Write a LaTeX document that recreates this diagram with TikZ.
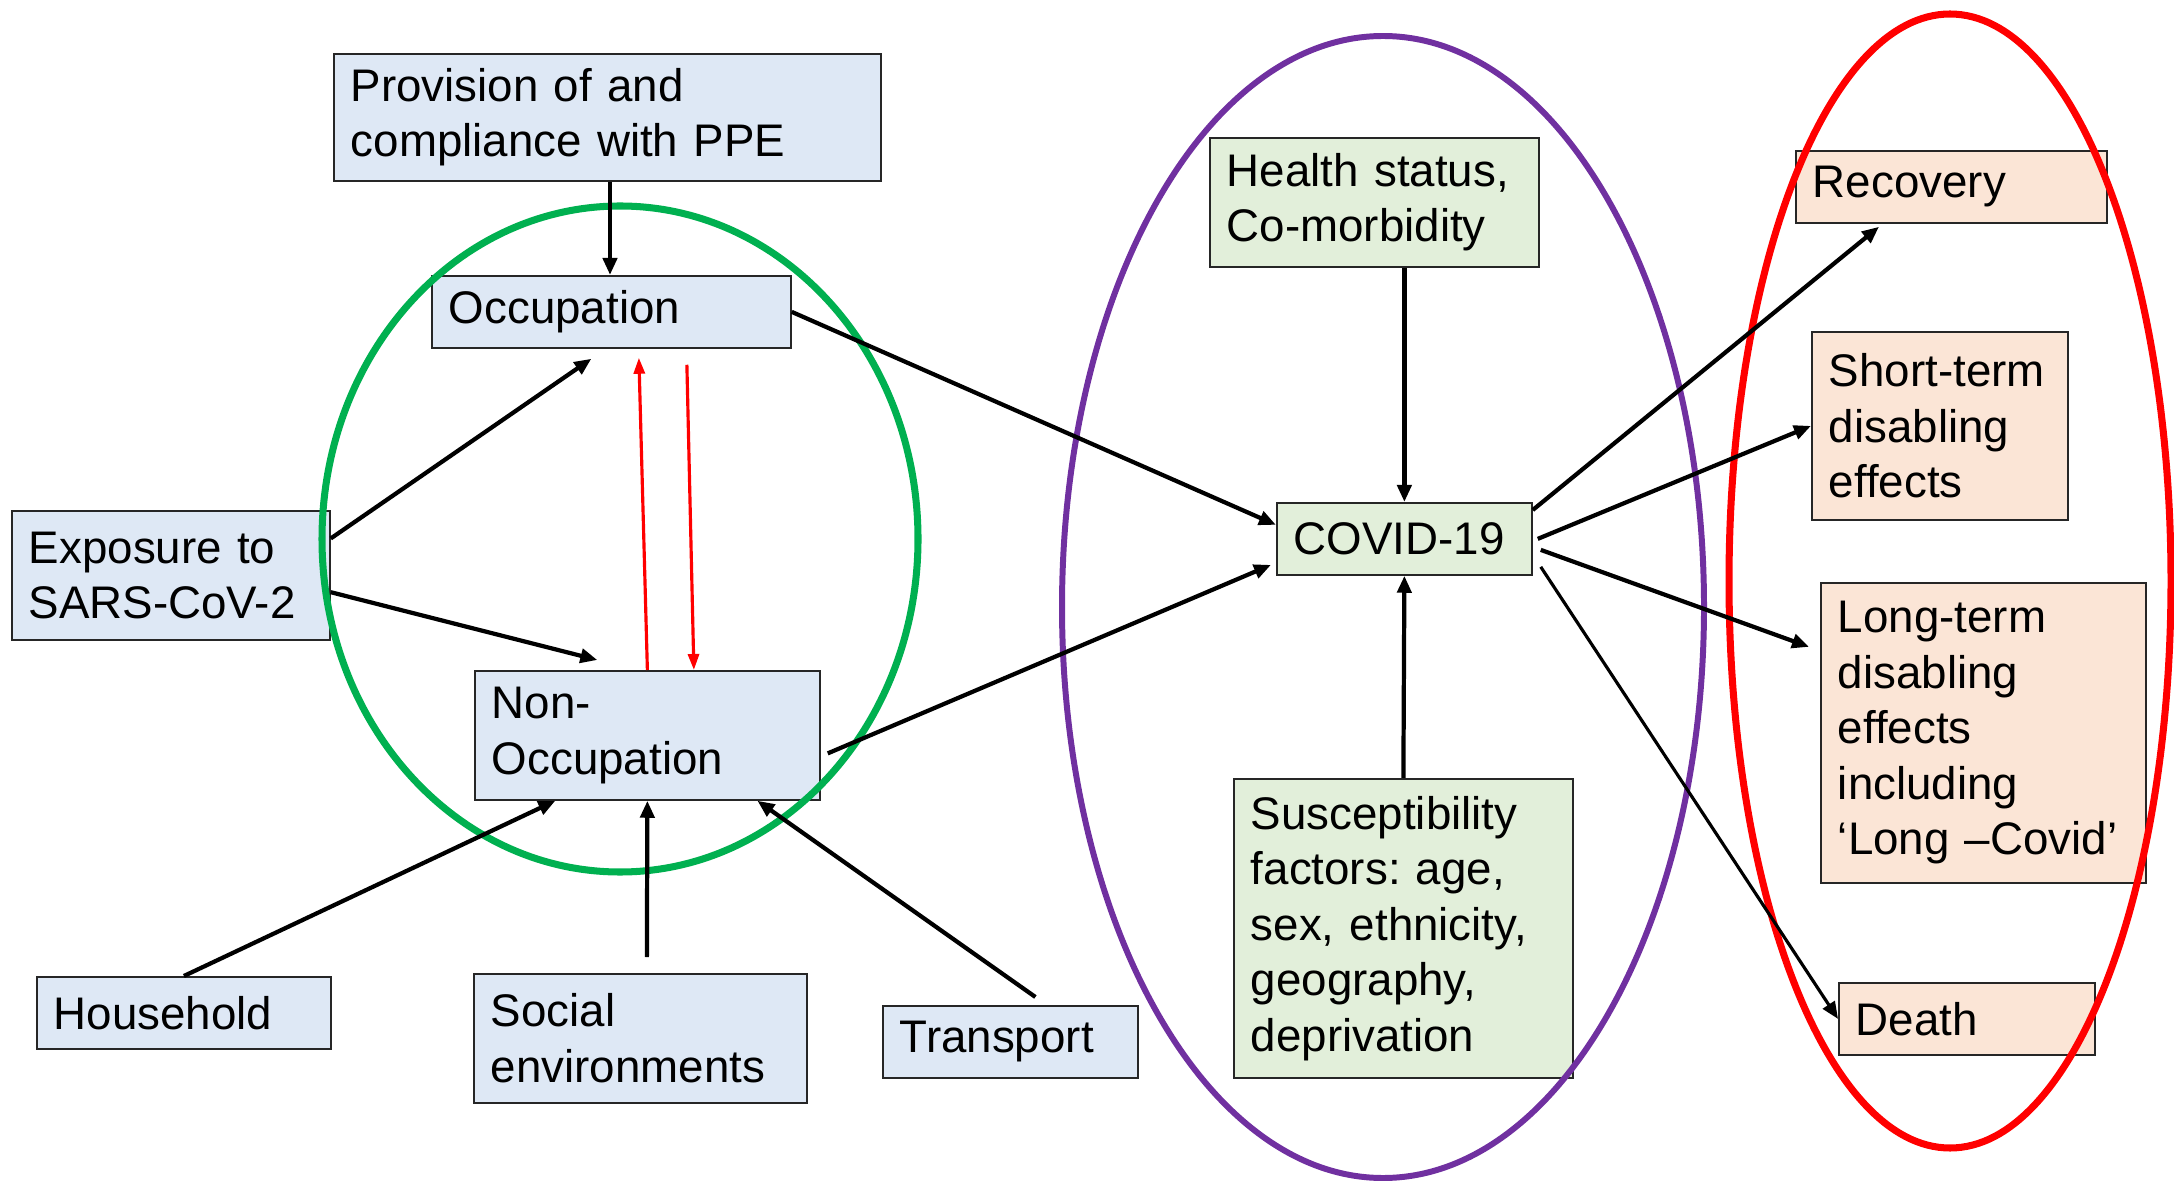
\documentclass[tikz,border=0pt]{standalone}
\usepackage{fontspec}
\setmainfont{Liberation Sans}
\usetikzlibrary{arrows.meta}
\definecolor{boxblue}{HTML}{DEE8F5}
\definecolor{boxgreen}{HTML}{E2EFDA}
\definecolor{boxorange}{HTML}{FBE5D6}
\definecolor{ringgreen}{HTML}{00B050}
\definecolor{ringpurple}{HTML}{7030A0}
\frenchspacing
\begin{document}
\begin{tikzpicture}[
  box/.style={draw=black!85,line width=0.5pt,anchor=north west,align=left,
    inner xsep=0.17cm,inner ysep=0pt,font=\fontsize{13}{15.8}\selectfont},
  arr/.style={-{Triangle[length=1.7mm,width=1.4mm]},line width=1.2pt},
  redarr/.style={-{Triangle[length=1.6mm,width=1.1mm]},line width=0.9pt,red}
]
\useasboundingbox (0,0) rectangle (21.74,11.83);

% Exposure side
\node[box,fill=boxblue,text width=5.13cm,minimum height=1.27cm] (ppe) at (3.33,11.30) {Provision of and\\compliance with PPE};
\node[box,fill=boxblue,text width=3.25cm,minimum height=0.72cm] (occ) at (4.31,9.08) {Occupation};
\node[box,fill=boxblue,text width=2.84cm,minimum height=1.29cm] (expo) at (0.11,6.73) {Exposure to\\SARS-CoV-2};
\node[box,fill=boxblue,text width=3.11cm,minimum height=1.29cm] (nonocc) at (4.74,5.13) {Non-\\Occupation};
\node[box,fill=boxblue,text width=2.60cm,minimum height=0.72cm] (house) at (0.36,2.07) {Household};
\node[box,fill=boxblue,text width=2.99cm,minimum height=1.29cm] (social) at (4.73,2.10) {Social\\environments};
\node[box,fill=boxblue,text width=2.21cm,minimum height=0.72cm] (transport) at (8.82,1.78) {Transport};

% Disease
\node[box,fill=boxgreen,text width=2.95cm,minimum height=1.29cm] (health) at (12.09,10.46) {Health status,\\Co-morbidity};
\node[box,fill=boxgreen,text width=2.21cm,minimum height=0.72cm] (covid) at (12.76,6.81) {COVID-19};
\node[box,fill=boxgreen,text width=3.05cm,minimum height=2.99cm] (suscept) at (12.33,4.05) {Susceptibility\\factors: age,\\sex, ethnicity,\\geography,\\deprivation};

% Outcomes
\node[box,fill=boxorange,text width=2.77cm,minimum height=0.72cm] (recovery) at (17.95,10.33) {Recovery};
\node[box,fill=boxorange,text width=2.22cm,minimum height=1.88cm] (short) at (18.11,8.52) {Short-term\\disabling\\effects};
\node[box,fill=boxorange,text width=2.91cm,minimum height=3.00cm] (long) at (18.20,6.01) {Long-term\\disabling\\effects\\including\\‘Long –Covid’};
\node[box,fill=boxorange,text width=2.22cm,minimum height=0.72cm] (death) at (18.38,2.01) {Death};

% Groups
\draw[ringgreen,line width=2pt] (6.20,6.44) ellipse [x radius=2.98,y radius=3.33];
\draw[ringpurple,line width=1.7pt] (13.83,5.76) ellipse [x radius=3.21,y radius=5.71];
\draw[red,line width=2pt] (19.50,6.02) ellipse [x radius=2.21,y radius=5.67];

% Paths into COVID-19
\draw[arr] (ppe.south -| 6.10,0) -- (occ.north -| 6.10,0);
\draw[arr] (expo.13) -- ([xshift=-2mm,yshift=-1mm]occ.south);
\draw[arr] (expo.-6) -- ([xshift=-5mm,yshift=1mm]nonocc.north);
\draw[redarr] (nonocc.north) -- ([xshift=2.75mm,yshift=-0.9mm]occ.south);
\draw[redarr] ([xshift=7.55mm,yshift=-1.6mm]occ.south) -- ([xshift=4.65mm]nonocc.north);
\draw[arr] (house.north) -- ([xshift=-9.2mm]nonocc.south);
\draw[arr] ([xshift=0.65mm,yshift=1.6mm]social.north) -- (nonocc.south);
\draw[arr] ([xshift=2.5mm,yshift=0.8mm]transport.north) -- ([xshift=11mm]nonocc.south);
\draw[arr] (occ.east) -- ([yshift=1.4mm]covid.west);
\draw[arr] ([xshift=0.7mm,yshift=-1.8mm]nonocc.east) -- ([xshift=-0.5mm,yshift=-2.6mm]covid.west);
\draw[arr] (health.south -| covid.north) -- (covid.north);
\draw[arr] (suscept.north) -- (covid.south);

% Outcomes of COVID-19
\draw[arr] ([yshift=-0.8mm]covid.north east) -- ([xshift=8.4mm,yshift=-0.3mm]recovery.south west);
\draw[arr] ([xshift=0.5mm]covid.east) -- (short.west);
\draw[arr] ([xshift=0.8mm,yshift=-1.1mm]covid.east) -- ([xshift=-1.1mm,yshift=8.6mm]long.west);
\draw[arr,line width=0.9pt] ([xshift=0.8mm,yshift=-2.8mm]covid.east) -- (death.west);

\end{tikzpicture}
\end{document}
